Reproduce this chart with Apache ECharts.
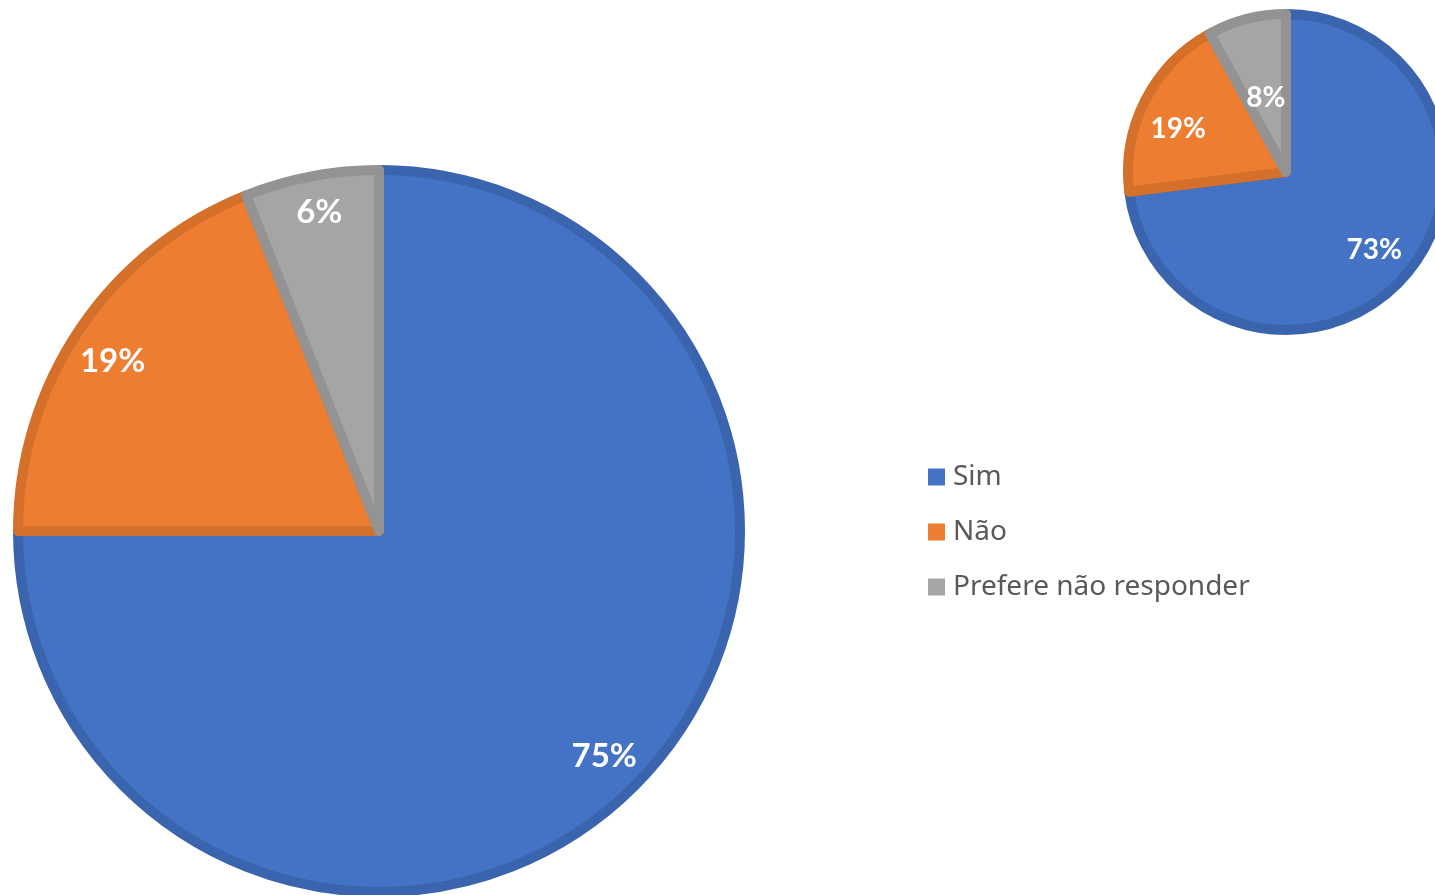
<!DOCTYPE html>
<html>
<head>
<meta charset="utf-8">
<script src="https://cdn.jsdelivr.net/npm/echarts@6/dist/echarts.min.js"></script>
<style>
  html, body { margin: 0; padding: 0; background: #fff; }
  #chart { width: 1435px; height: 895px; }
</style>
</head>
<body>
<div id="chart"></div>
<script>
// categorias e valores
var categorias = ['Sim', 'Não', 'Prefere não responder'];
var valoresGrande = [75, 19, 6];
var valoresPequeno = [73, 19, 8];

var cores = ['#4472C4', '#ED7D31', '#A5A5A5'];
var bordas = ['#3B64AE', '#D5702B', '#939393'];

var myChart = echarts.init(document.getElementById('chart'));

function montaDados(valores, comBorda) {
    var dados = [];
    for (var i = 0; i < categorias.length; i++) {
        dados.push({
            name: categorias[i],
            value: valores[i],
            itemStyle: comBorda ? { color: cores[i], borderColor: bordas[i], borderWidth: 10 }
                                : { color: 'transparent', borderWidth: 0 }
        });
    }
    return dados;
}

// rótulos (anel transparente só para posicionar o texto)
function montaRotulos(valores, offsets) {
    var dados = montaDados(valores, false);
    for (var i = 0; i < dados.length; i++) {
        if (offsets && offsets[i]) dados[i].label = { offset: offsets[i] };
    }
    return dados;
}

var rotulo = {
    show: true,
    position: 'inside',
    color: '#fff',
    fontWeight: 'bold',
    fontFamily: 'Lato',
    formatter: '{c}%'
};

var option = {
    animation: false,
    legend: {
        orient: 'vertical',
        left: 923,
        top: 458,
        itemWidth: 17,
        itemHeight: 17,
        itemGap: 27,
        icon: 'rect',
        data: categorias,
        itemStyle: { borderWidth: 0 },
        textStyle: { fontSize: 28, color: '#595959', fontFamily: 'Noto Sans', padding: [0, 0, 0, 3] }
    },
    series: [
        {   // grande
            type: 'pie',
            center: [379, 531],
            radius: [0, 361],
            startAngle: 90,
            clockwise: true,
            silent: true,
            label: { show: false },
            labelLine: { show: false },
            data: montaDados(valoresGrande, true)
        },
        {
            type: 'pie',
            center: [379, 531],
            radius: [270, 361],
            startAngle: 90,
            silent: true,
            label: Object.assign({}, rotulo, { fontSize: 33 }),
            labelLine: { show: false },
            data: montaRotulos(valoresGrande, [null, [-3, 9], [0, -6]])
        },
        {   // pequeno
            type: 'pie',
            center: [1286, 172],
            radius: [0, 158],
            startAngle: 90,
            silent: true,
            label: { show: false },
            labelLine: { show: false },
            data: montaDados(valoresPequeno, true)
        },
        {
            type: 'pie',
            center: [1286, 172],
            radius: [68, 161],
            startAngle: 90,
            silent: true,
            label: Object.assign({}, rotulo, { fontSize: 28 }),
            labelLine: { show: false },
            data: montaRotulos(valoresPequeno, [null, [-3, 10], [9, 40]])
        }
    ]
};

myChart.setOption(option);
</script>
</body>
</html>
